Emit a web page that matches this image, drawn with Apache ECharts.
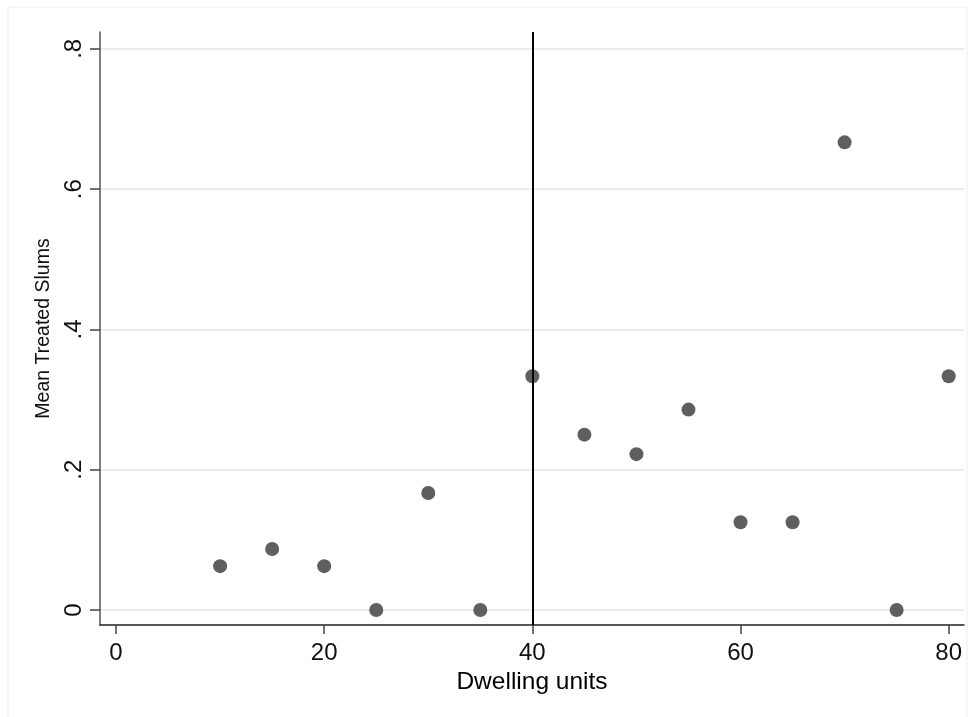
<!DOCTYPE html>
<html>
<head>
<meta charset="utf-8">
<script src="https://cdn.jsdelivr.net/npm/echarts@6/dist/echarts.min.js"></script>
<style>html,body{margin:0;padding:0;background:#fff}#c{width:979px;height:717px}</style>
</head>
<body>
<div id="c"></div>
<script>
const dwellingUnits = [10, 15, 20, 25, 30, 35, 40, 45, 50, 55, 60, 65, 70, 75, 80];
const meanTreated = [0.0625, 0.087, 0.0625, 0, 0.1667, 0, 0.3333, 0.25, 0.2222, 0.2857, 0.125, 0.125, 0.6667, 0, 0.3333];
const xTicks = [0, 20, 40, 60, 80];
const yTicks = [0, 0.2, 0.4, 0.6, 0.8];
const yTickLabels = ['0', '.2', '.4', '.6', '.8'];
const cutoff = 40;

const points = dwellingUnits.map((x, i) => [x, meanTreated[i]]);
const chart = echarts.init(document.getElementById('c'), null, {renderer: 'canvas'});
const font = 'Liberation Sans, Arial, sans-serif';
chart.setOption({
  animation: false,
  backgroundColor: '#ffffff',
  graphic: [{
    type: 'rect', shape: {x: 8, y: 7, width: 959, height: 720},
    style: {fill: 'none', stroke: '#eeeeee', lineWidth: 1}, silent: true, z: -1
  }],
  grid: {left: 100, right: 15, top: 32, bottom: 92},
  xAxis: {
    type: 'value', min: -1.54, max: 81.47,
    name: 'Dwelling units', nameLocation: 'middle', nameGap: 41,
    nameTextStyle: {fontFamily: font, fontSize: 24.5, color: '#000'},
    axisLine: {show: true, onZero: false, lineStyle: {color: '#222', width: 1.5}},
    axisTick: {show: true, length: 9, lineStyle: {color: '#444', width: 1.5}, customValues: xTicks},
    axisLabel: {customValues: xTicks, margin: 16, fontFamily: font, fontSize: 24, color: '#111'},
    splitLine: {show: false}
  },
  yAxis: {
    type: 'value', min: -0.0214, max: 0.824,
    name: 'Mean Treated Slums', nameLocation: 'middle', nameGap: 39, nameRotate: 90,
    nameTextStyle: {fontFamily: font, fontSize: 19.5, color: '#111'},
    axisLine: {show: true, onZero: false, lineStyle: {color: '#555', width: 1.5}},
    axisTick: {show: true, length: 10, lineStyle: {color: '#444', width: 1.5}, customValues: yTicks},
    axisLabel: {
      customValues: yTicks, rotate: 90, margin: 14, fontFamily: font, fontSize: 24, color: '#111',
      formatter: v => { const i = yTicks.findIndex(t => Math.abs(t - v) < 1e-9); return i >= 0 ? yTickLabels[i] : ''; }
    },
    splitLine: {show: true, lineStyle: {color: '#e6e6e6', width: 1.5}}
  },
  series: [{
    type: 'scatter',
    data: points,
    symbol: 'circle', symbolSize: 14,
    itemStyle: {color: '#5f5f5f', opacity: 1},
    markLine: {
      silent: true, symbol: ['none', 'none'], label: {show: false},
      lineStyle: {color: '#000', width: 2, type: 'solid'},
      data: [{xAxis: cutoff}]
    }
  }]
});
</script>
</body>
</html>
